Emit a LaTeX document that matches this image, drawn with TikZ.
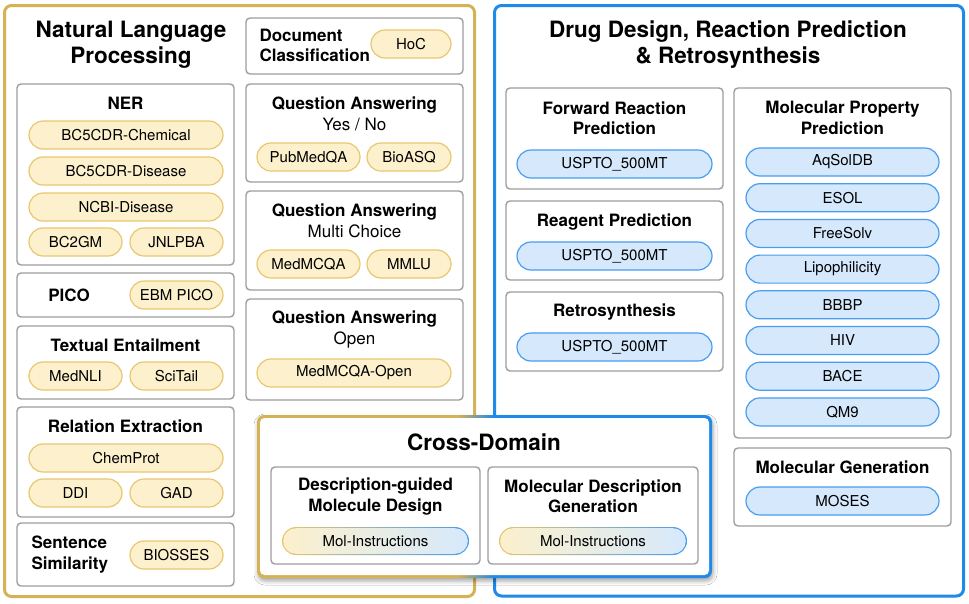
\documentclass[tikz,border=0pt]{standalone}
\usepackage{fontspec}
\setmainfont{TeX Gyre Heros}
\usetikzlibrary{shadows.blur}

\definecolor{nlpgold}{RGB}{214,178,86}
\definecolor{drugblue}{RGB}{32,138,232}
\definecolor{boxgray}{RGB}{158,158,158}
\definecolor{pillgold}{RGB}{233,199,112}
\definecolor{pillyellow}{RGB}{252,240,205}
\definecolor{pillblue}{RGB}{72,157,240}
\definecolor{pilllight}{RGB}{214,233,252}

\pgfdeclarehorizontalshading{crossborder}{100bp}{color(0bp)=(nlpgold); color(47bp)=(nlpgold); color(51bp)=(drugblue); color(100bp)=(drugblue)}

\tikzset{
	fieldbox/.style={line width=3pt, rounded corners=7pt, fill=white},
	group/.style={draw=boxgray, line width=1.4pt, rounded corners=4pt, fill=white},
	title/.style={font=\bfseries\fontsize{22.5}{26}\selectfont, align=center},
	head/.style={font=\bfseries\fontsize{17}{20.5}\selectfont, align=center},
	pill/.style={rectangle, rounded corners=14pt, minimum height=28pt, inner sep=0pt, line width=1.2pt, font=\fontsize{15}{18}\selectfont},
	ypill/.style={pill, draw=pillgold, fill=pillyellow},
	bpill/.style={pill, draw=pillblue, fill=pilllight},
	mixpill/.style={pill, rounded corners=12.8pt, minimum height=25.6pt, left color=pillyellow, right color=pilllight}
}

\begin{document}
\begin{tikzpicture}[x=1pt, y=-1pt]
	\useasboundingbox[fill=white] (0,0) rectangle (969,603);
	
	%fields
	\draw[fieldbox, draw=nlpgold] (4.5,5.5) rectangle (474.5,596.5);
	\draw[fieldbox, draw=drugblue] (494.5,5.5) rectangle (963.5,596);
	\node[title] (nlp) at (131,45) {Natural Language\\Processing};
	\node[title] (drug) at (728,45) {Drug Design, Reaction Prediction\\\& Retrosynthesis};
	
	%task boxes
	\foreach \a/\b/\c/\d in {17/84/234/265, 17/273/234/317, 17/326/234/399, 17/407/234/517, 17/523/234/586,
		246/18/463/74, 246/84/463/182, 246/191/463/290, 246/299/463/400,
		506/88/723/189, 506/201/723/280, 506/292/723/371, 734/88/951/438, 734/448/951/526}
	\draw[group] (\a,\b) rectangle (\c,\d);
	
	%NER
	\node[head] (ner) at (125.5,103) {NER};
	\node[ypill, minimum width=194pt] (bcchem) at (126,135) {BC5CDR-Chemical};
	\node[ypill, minimum width=194pt] (bcdis) at (126,171) {BC5CDR-Disease};
	\node[ypill, minimum width=194pt] (ncbi) at (126,207) {NCBI-Disease};
	\node[ypill, minimum width=93pt] (bc2gm) at (75.5,242) {BC2GM};
	\node[ypill, minimum width=93pt] (jnlpba) at (176.5,242) {JNLPBA};
	% PICO
	\node[head] (pico) at (69,295) {PICO};
	\node[ypill, minimum width=93pt] (ebm) at (176.5,295) {EBM PICO};
	% textual entailment
	\node[head] (te) at (125.5,345) {Textual Entailment};
	\node[ypill, minimum width=93pt] (mednli) at (75.5,376) {MedNLI};
	\node[ypill, minimum width=93pt] (scitail) at (176.5,376) {SciTail};
	% relation extraction
	\node[head] (re) at (125.5,426) {Relation Extraction};
	\node[ypill, minimum width=194pt] (chemprot) at (126,458) {ChemProt};
	\node[ypill, minimum width=93pt] (ddi) at (75.5,493) {DDI};
	\node[ypill, minimum width=93pt] (gad) at (176.5,493) {GAD};
	% sentence similarity
	\node[head, align=left, anchor=west] (ss) at (28,554.5) {Sentence\\Similarity};
	\node[ypill, minimum width=93pt] (biosses) at (176.5,555) {BIOSSES};
	
	% document classification
	\node[head, align=left, anchor=west] (dc) at (256,45.5) {Document\\Classification};
	\node[ypill, minimum width=80pt] (hoc) at (411,44) {HoC};
	% question answering
	\node[head] (qayn) at (354.5,114) {Question Answering\\{\mdseries Yes / No}};
	\node[ypill, minimum width=103pt] (pubmedqa) at (308.5,157) {PubMedQA};
	\node[ypill, minimum width=84pt] (bioasq) at (409,157) {BioASQ};
	\node[head] (qamc) at (354.5,221) {Question Answering\\{\mdseries Multi Choice}};
	\node[ypill, minimum width=103pt] (medmcqa) at (308.5,264) {MedMCQA};
	\node[ypill, minimum width=84pt] (mmlu) at (409,264) {MMLU};
	\node[head] (qao) at (354.5,329.5) {Question Answering\\{\mdseries Open}};
	\node[ypill, minimum width=194pt] (medopen) at (354,373) {MedMCQA-Open};
	
	% reactions
	\node[head] (frp) at (614.5,118) {Forward Reaction\\Prediction};
	\node[bpill, minimum width=195pt] (uspto1) at (614.5,164) {USPTO\_500MT};
	\node[head] (rp) at (614.5,222) {Reagent Prediction};
	\node[bpill, minimum width=195pt] (uspto2) at (614.5,256) {USPTO\_500MT};
	\node[head] (rs) at (614.5,312) {Retrosynthesis};
	\node[bpill, minimum width=195pt] (uspto3) at (614.5,347) {USPTO\_500MT};
	
	% molecular property
	\node[head] (mpp) at (842.5,118) {Molecular Property\\Prediction};
	\foreach \name [count=\i from 0] in {AqSolDB,ESOL,FreeSolv,Lipophilicity,BBBP,HIV,BACE,QM9}
	\node[bpill, minimum width=193pt] (prop\i) at (842.5,162+35.7*\i) {\name};
	\node[head] (mg) at (842.5,467) {Molecular Generation};
	\node[bpill, minimum width=193pt] (moses) at (842.5,501) {MOSES};
	
	%cross domain
	\shade[shading=crossborder, rounded corners=7pt,
	blur shadow={shadow xshift=1pt, shadow yshift=-3pt, shadow blur radius=4pt, shadow opacity=35}]
	(257,415) rectangle (712,578);
	\fill[white, rounded corners=4.5pt] (260,418) rectangle (709,575);
	\node[title] (cross) at (484,442) {Cross-Domain};
	\draw[group] (271,467) rectangle (480,564);
	\draw[group] (488,467) rectangle (698,564);
	\node[head] (dgmd) at (375.5,496.5) {Description-guided\\Molecule Design};
	\node[head] (mdg) at (593,496.5) {Molecular Description\\Generation};
	% gradient pills
	\shade[left color=pillgold, right color=pillblue, rounded corners=14pt] (282,527) rectangle (469,555);
	\node[mixpill, minimum width=184.6pt] (molins1) at (375.5,541) {Mol-Instructions};
	\shade[left color=pillgold, right color=pillblue, rounded corners=14pt] (499,527) rectangle (687,555);
	\node[mixpill, minimum width=185.6pt] (molins2) at (593,541) {Mol-Instructions};
\end{tikzpicture}
\end{document}
